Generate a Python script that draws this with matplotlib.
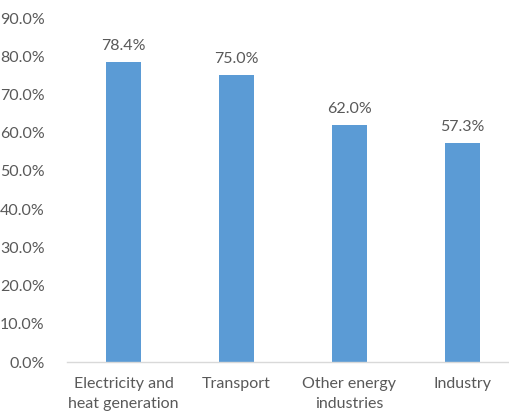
import matplotlib
matplotlib.use("Agg")
import matplotlib.pyplot as plt

categories = ["Electricity and\nheat generation", "Transport", "Other energy\nindustries", "Industry"]
values = [78.4, 75.0, 62.0, 57.3]
yticks = [0, 10, 20, 30, 40, 50, 60, 70, 80, 90]

plt.rcParams['font.family'] = ['Lato', 'DejaVu Sans']
txt = "#595959"
fs = 11.5

fig = plt.figure(figsize=(5.09, 4.13), dpi=100)
ax = fig.add_axes([67 / 509, 1 - 362 / 413, 1 - 67 / 509, (362 - 18) / 413])

x = range(len(values))
ax.bar(x, values, width=0.31, color="#5B9BD5", zorder=2)
for i, v in zip(x, values):
    ax.text(i, v + 2.4, f"{v:.1f}%", ha="center", va="bottom", fontsize=fs, color=txt)

ax.set_xlim(-0.5, (509 - 67) / 113 - 0.5)
ax.set_ylim(0, 90)
ax.set_yticks(yticks)
ax.set_yticklabels([f"{t:.1f}%" for t in yticks], fontsize=fs, color=txt)
ax.set_xticks(list(x))
ax.set_xticklabels(categories, fontsize=fs, color=txt, linespacing=1.5)

for s in ["top", "right", "left"]:
    ax.spines[s].set_visible(False)
ax.spines["bottom"].set_color("#D9D9D9")
ax.spines["bottom"].set_linewidth(1.0)
ax.tick_params(axis="both", length=0)
ax.tick_params(axis="y", pad=16)
ax.tick_params(axis="x", pad=11)

fig.savefig("out.png", dpi=100)
